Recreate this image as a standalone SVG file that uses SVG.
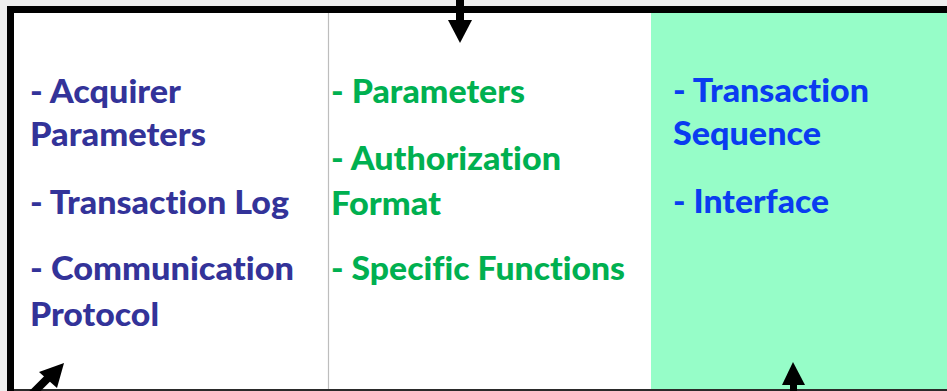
<svg xmlns="http://www.w3.org/2000/svg" width="947" height="391" viewBox="0 0 947 391">
  <defs>
    <style>
      .t { font-family: Lato, "Open Sans", "Liberation Sans", sans-serif; font-weight: 900; font-size: 33px; font-variant-ligatures: none; font-feature-settings: "liga" 0; }
      .c1 { fill: #333399; }
      .c2 { fill: #00b050; }
      .c3 { fill: #0a3cf0; }
      .frame { fill: #000; }
    </style>
  </defs>

  <!-- page backdrop and panel -->
  <rect x="0" y="0" width="947" height="391" fill="#eeeeee"/>
  <rect x="8" y="6" width="939" height="385" fill="#ffffff"/>
  <rect x="651" y="13" width="296" height="378" fill="#96fdc8"/>
  <line x1="328.5" y1="13" x2="328.5" y2="391" stroke="#bdbdbd" stroke-width="1.2"/>

  <!-- frame edges -->
  <rect class="frame" x="7" y="6" width="940" height="7"/>
  <rect class="frame" x="7" y="6" width="7" height="385"/>
  <rect x="14" y="389" width="933" height="2" fill="#2a2a2a"/>

  <g id="connectors">
    <!-- into the middle column from above -->
    <rect class="frame" x="456" y="0" width="8" height="21"/>
    <polygon class="frame" points="448,20 472,20 460,43"/>
    <!-- into the left column from below -->
    <line x1="30" y1="396" x2="50" y2="376" stroke="#000" stroke-width="8"/>
    <polygon class="frame" points="64,363 39,372 57,388"/>
    <!-- into the right column from below -->
    <rect class="frame" x="790" y="384" width="7" height="7"/>
    <polygon class="frame" points="793,362 782,385 805,385"/>
  </g>

  <g id="acquirer">
    <text class="t c1" x="30" y="103" textLength="151" lengthAdjust="spacingAndGlyphs">- Acquirer</text>
    <text class="t c1" x="30" y="146" textLength="176" lengthAdjust="spacingAndGlyphs">Parameters</text>
    <text class="t c1" x="30" y="214" textLength="259" lengthAdjust="spacingAndGlyphs">- Transaction Log</text>
    <text class="t c1" x="30" y="280" textLength="264" lengthAdjust="spacingAndGlyphs">- Communication</text>
    <text class="t c1" x="30" y="326" textLength="129" lengthAdjust="spacingAndGlyphs">Protocol</text>
  </g>

  <g id="authorization">
    <text class="t c2" x="331" y="103" textLength="194" lengthAdjust="spacingAndGlyphs">- Parameters</text>
    <text class="t c2" x="331" y="170" textLength="230" lengthAdjust="spacingAndGlyphs">- Authorization</text>
    <text class="t c2" x="331" y="215" textLength="110" lengthAdjust="spacingAndGlyphs">Format</text>
    <text class="t c2" x="331" y="280" textLength="294" lengthAdjust="spacingAndGlyphs">- Specific Functions</text>
  </g>

  <g id="interface">
    <text class="t c3" x="673" y="102" textLength="196" lengthAdjust="spacingAndGlyphs">- Transaction</text>
    <text class="t c3" x="673" y="145" textLength="148" lengthAdjust="spacingAndGlyphs">Sequence</text>
    <text class="t c3" x="673" y="213" textLength="156" lengthAdjust="spacingAndGlyphs">- Interface</text>
  </g>
</svg>
